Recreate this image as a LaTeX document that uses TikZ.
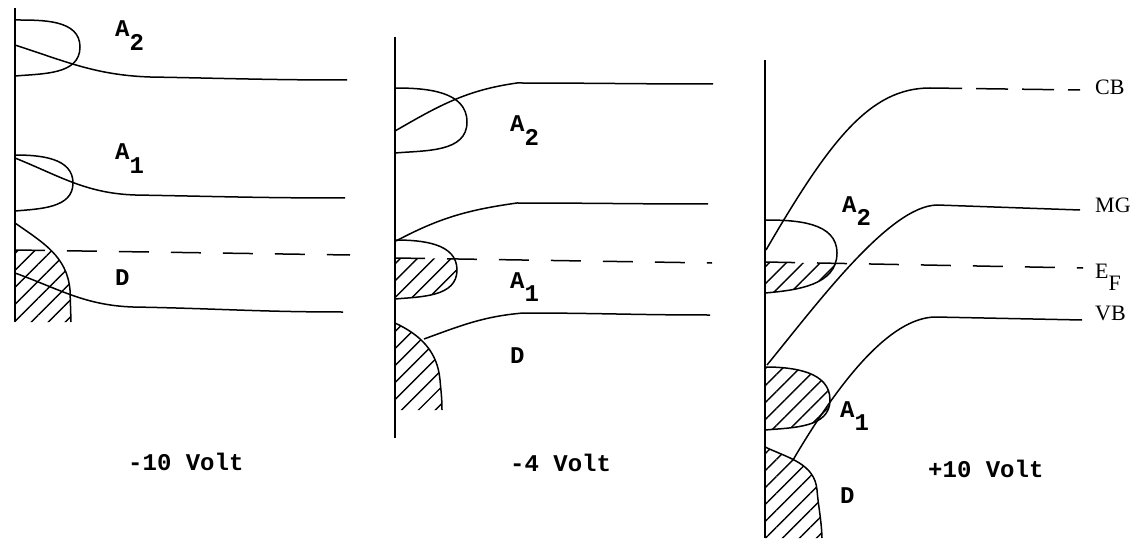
\documentclass[tikz,border=0pt]{standalone}
\usepackage{fontspec}
\newfontfamily\macchina{Liberation Mono}
\newfontfamily\tondo{Liberation Serif}
\usetikzlibrary{patterns.meta}
\newcommand{\pedice}[2]{#1\raisebox{-0.55em}{#2}}
\tikzset{
  asse/.style={line width=2.4pt},
  banda/.style={line width=1.5pt},
  fermi/.style={line width=1.5pt, dash pattern=on 30pt off 22pt},
  tratteggio/.style={pattern={Lines[angle=45,distance=12pt,line width=1.4pt]}},
  etich/.style={font=\macchina\bfseries\fontsize{24}{28}\selectfont, inner sep=0pt, anchor=base west},
  nome/.style={font=\tondo\fontsize{22}{26}\selectfont, inner sep=0pt, anchor=base west}
}
\begin{document}
\begin{tikzpicture}[x=1pt, y=-1pt]
  \useasboundingbox (0,0) rectangle (1140,540);

  %%%%% -10 Volt
  %asse
  \draw[asse] (15,8) -- (15,322);
  %lobi
  \draw[banda] (15,20) to[out=0,in=90] (80,47) to[out=-90,in=5] (15,76);
  \draw[banda] (15,155) to[out=0,in=90] (73,183) to[out=-90,in=5] (15,211);
  \begin{scope}
    \clip (15,250) -- (120,252) -- (120,322) -- (15,322) -- cycle;
    \fill[tratteggio] (15,223) to[out=-35,in=95] (70,290) -- (71,322) -- (15,322) -- cycle;
  \end{scope}
  \draw[banda] (15,223) to[out=-35,in=95] (70,290) -- (71,322);
  %bande
  \draw[banda] (15,45) to[out=-18,in=178] (150,77) to[out=-1,in=180] (347,80);
  \draw[banda] (15,158) to[out=-22,in=178] (135,195) to[out=-1,in=180] (345,198);
  \draw[banda] (15,273) to[out=-20,in=178] (133,307) to[out=-1,in=180] (343,312);
  %Fermi
  \draw[fermi] (15,250) -- (350,255);
  %label
  \node[etich] (a2sx) at (115,37) {\pedice{A}{2}};
  \node[etich] (a1sx) at (115,160) {\pedice{A}{1}};
  \node[etich] (dsx) at (115,285) {D};
  \node[etich] (vsx) at (128,470) {-10 Volt};

  %%%%% -4 Volt
  %asse
  \draw[asse] (395,37) -- (395,438);
  %lobi
  \draw[banda] (395,88) to[out=0,in=90] (467,122) to[out=-90,in=5] (395,153);
  \begin{scope}
    \clip (395,258) -- (480,259) -- (480,320) -- (395,320) -- cycle;
    \fill[tratteggio] (395,240) to[out=0,in=90] (457,270) to[out=-90,in=5] (395,299) -- cycle;
  \end{scope}
  \draw[banda] (395,240) to[out=0,in=90] (457,270) to[out=-90,in=5] (395,299);
  \fill[tratteggio] (395,323) to[out=-25,in=95] (440,380) to[out=-85,in=90] (442,410) -- (395,410) -- cycle;
  \draw[banda] (395,323) to[out=-25,in=95] (440,380) to[out=-85,in=90] (442,410);
  %bande
  \draw[banda] (395,131) to[out=30,in=-172] (517,83) to[out=0,in=180] (713,84);
  \draw[banda] (396,241) to[out=28,in=-172] (517,203) to[out=0,in=180] (708,204);
  \draw[banda] (424,339) to[out=20,in=-175] (523,313) to[out=0,in=180] (710,315);
  %Fermi
  \draw[fermi] (395,258) -- (712,263);
  %label
  \node[etich] (a2c) at (510,132) {\pedice{A}{2}};
  \node[etich] (a1c) at (510,288) {\pedice{A}{1}};
  \node[etich] (dc) at (510,363) {D};
  \node[etich] (vc) at (510,471) {-4 Volt};

  %%%%% +10 Volt
  %asse
  \draw[asse] (765,60) -- (765,538);
  %lobi
  \begin{scope}
    \clip (765,262) -- (860,264) -- (860,300) -- (765,300) -- cycle;
    \fill[tratteggio] (765,220) to[out=0,in=90] (837,253) to[out=-90,in=5] (765,293) -- cycle;
  \end{scope}
  \draw[banda] (765,220) to[out=0,in=90] (837,253) to[out=-90,in=5] (765,293);
  \fill[tratteggio] (765,367) to[out=0,in=90] (830,400) to[out=-90,in=5] (765,430) -- cycle;
  \draw[banda] (765,367) to[out=0,in=90] (830,400) to[out=-90,in=5] (765,430);
  \fill[tratteggio] (765,447) to[out=-25,in=95] (817,490) to[out=-85,in=92] (822,538) -- (765,538) -- cycle;
  \draw[banda] (765,447) to[out=-25,in=95] (817,490) to[out=-85,in=92] (822,538);
  %bande
  \draw[banda] (766,250) .. controls (830,140) and (870,88) .. (930,88);
  \draw[banda, dash pattern=on 32pt off 14pt] (930,88) -- (1080,90);
  \draw[banda] (767,365) .. controls (820,300) and (890,206) .. (937,205) -- (1080,210);
  \draw[banda] (793,460) .. controls (840,380) and (890,318) .. (935,317) -- (1082,320);
  %Fermi
  \draw[fermi] (765,262) -- (1083,268);
  %label
  \node[etich] (a2dx) at (842,212) {\pedice{A}{2}};
  \node[etich] (a1dx) at (840,417) {\pedice{A}{1}};
  \node[etich] (ddx) at (840,503) {D};
  \node[etich] (vdx) at (928,477) {+10 Volt};
  \node[nome] (cb) at (1095,95) {CB};
  \node[nome] (mg) at (1095,213) {MG};
  \node[nome] (ef) at (1095,278) {\pedice{E}{F}};
  \node[nome] (vb) at (1095,320) {VB};
\end{tikzpicture}
\end{document}
